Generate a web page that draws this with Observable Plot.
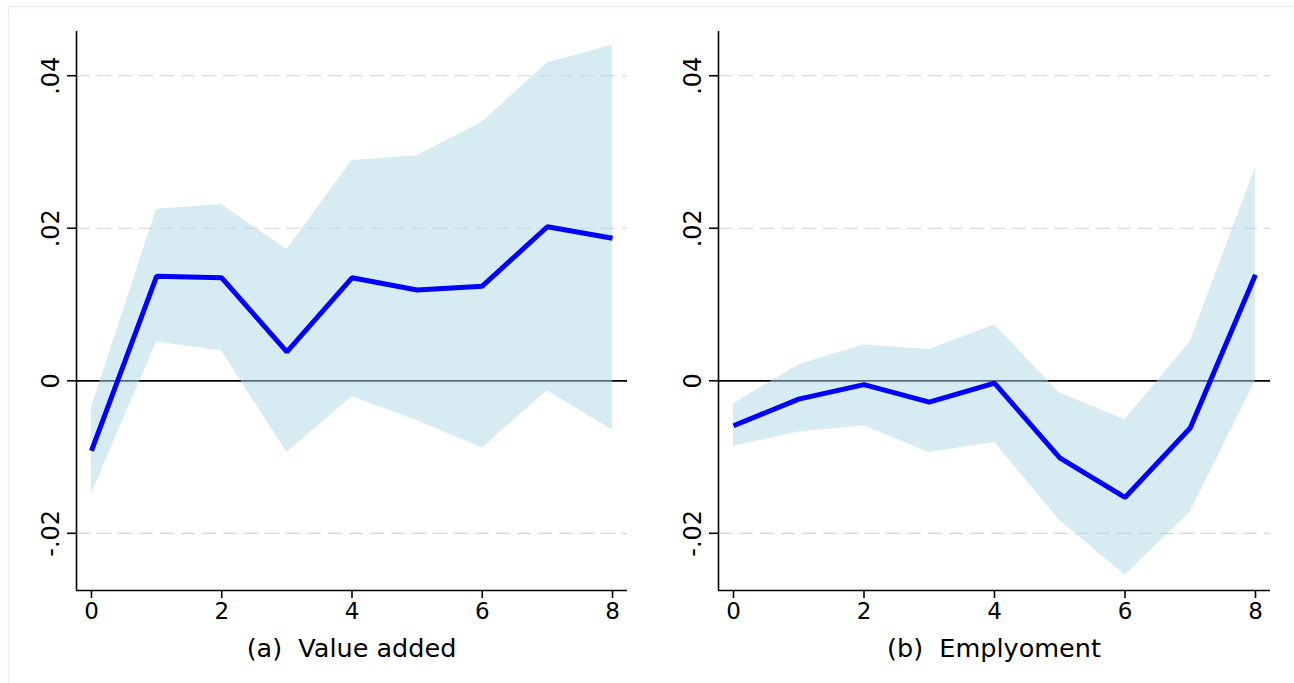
<!DOCTYPE html>
<html>
<head>
<meta charset="utf-8">
<script src="https://cdn.jsdelivr.net/npm/d3@7"></script>
<script src="https://cdn.jsdelivr.net/npm/@observablehq/plot@0.6"></script>
<style>
  html, body { margin: 0; padding: 0; background: #fff; }
  body { font-family: "DejaVu Sans", sans-serif; }
  #wrap { position: relative; width: 1294px; height: 683px; overflow: hidden; }
  #frame { position: absolute; left: 8px; top: 6px; width: 1300px; height: 700px;
           border: 1px solid #e6eff0; box-sizing: border-box; }
  .panel { position: absolute; top: 0; }
  .caption { position: absolute; top: 633px; font-size: 25.5px; color: #000;
             text-align: center; white-space: pre; }
</style>
</head>
<body>
<div id="wrap">
  <div id="frame"></div>
</div>
<script>
// Horizon (years after the shock)
const horizon = [0, 1, 2, 3, 4, 5, 6, 7, 8];

// (a) Value added: point estimate and confidence band
const vaEst   = [-0.0092, 0.0137, 0.0135, 0.0038, 0.0135, 0.0119, 0.0124, 0.0202, 0.0187];
const vaUpper = [-0.0035, 0.0225, 0.0231, 0.0172, 0.0289, 0.0295, 0.0339, 0.0417, 0.0440];
const vaLower = [-0.0148, 0.0051, 0.0039, -0.0094, -0.0021, -0.0052, -0.0088, -0.0013, -0.0065];

// (b) Employment: point estimate and confidence band
const emEst   = [-0.0059, -0.0024, -0.0005, -0.0028, -0.0003, -0.0101, -0.0153, -0.0062, 0.0139];
const emUpper = [-0.0030, 0.0021, 0.0047, 0.0041, 0.0073, -0.0016, -0.0051, 0.0051, 0.0279];
const emLower = [-0.0086, -0.0067, -0.0059, -0.0094, -0.0081, -0.0183, -0.0255, -0.0172, 0.0000];

// Axis ticks and their labels
const xTicks = [0, 2, 4, 6, 8];
const yTicks = [-0.02, 0, 0.02, 0.04];
const yTickLabels = ["-.02", "0", ".02", ".04"];

// Panel titles
const titles = ["(a)  Value added", "(b)  Emplyoment"];

const xDomain = [-0.23, 8.23];
const yDomain = [-0.0275, 0.0458];

function rows(est, lo, hi) {
  return horizon.map((h, i) => ({h, est: est[i], lo: lo[i], hi: hi[i]}));
}

function panel(data, {left, width, marginLeft, marginRight}) {
  const yLabel = new Map(yTicks.map((t, i) => [t, yTickLabels[i]]));
  const svg = Plot.plot({
    width, height: 683,
    marginLeft, marginRight, marginTop: 31, marginBottom: 93,
    style: {fontFamily: "DejaVu Sans, sans-serif", fontSize: "22px", color: "#000", background: "transparent"},
    x: {domain: xDomain, axis: null},
    y: {domain: yDomain, axis: null},
    marks: [
      Plot.gridY(yTicks.filter(t => t !== 0), {stroke: "#d4d4d4", strokeOpacity: 1, strokeWidth: 1.2, strokeDasharray: "14,7"}),
      Plot.ruleY([0], {stroke: "#000", strokeWidth: 1.7}),
      Plot.areaY(data, {x: "h", y1: "lo", y2: "hi", fill: "#add8e6", fillOpacity: 0.5}),
      Plot.lineY(data, {x: "h", y: "est", stroke: "#0000ff", strokeWidth: 5, strokeLinecap: "butt", strokeLinejoin: "miter"}),
      Plot.ruleX([xDomain[0]], {stroke: "#000", strokeWidth: 1.6}),
      Plot.ruleY([yDomain[0]], {stroke: "#000", strokeWidth: 1.6}),
      Plot.axisX({ticks: xTicks, tickSize: 8, tickPadding: 4, stroke: "#000", strokeWidth: 1.6, label: null, fontSize: 23}),
      Plot.axisY({ticks: yTicks, tickSize: 9, tickPadding: 9, tickRotate: -90, stroke: "#000", strokeWidth: 1.6,
                  label: null, fontSize: 24, tickFormat: t => yLabel.get(t)})
    ]
  });
  svg.classList.add("panel");
  svg.style.left = left + "px";
  return svg;
}

const wrap = document.getElementById("wrap");
const layouts = [
  {left: 0, width: 647, marginLeft: 76, marginRight: 20},
  {left: 647, width: 647, marginLeft: 71, marginRight: 24}
];
const datasets = [rows(vaEst, vaLower, vaUpper), rows(emEst, emLower, emUpper)];

layouts.forEach((lay, i) => {
  wrap.appendChild(panel(datasets[i], lay));
  const cap = document.createElement("div");
  cap.className = "caption";
  cap.textContent = titles[i];
  const plotLeft = lay.left + lay.marginLeft;
  const plotWidth = lay.width - lay.marginLeft - lay.marginRight;
  cap.style.left = plotLeft + "px";
  cap.style.width = plotWidth + "px";
  wrap.appendChild(cap);
});
</script>
</body>
</html>
